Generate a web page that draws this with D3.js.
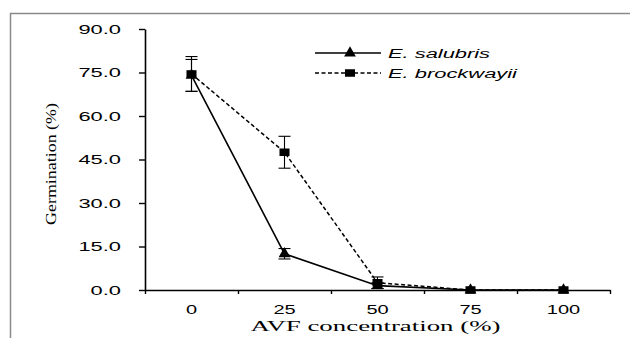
<!DOCTYPE html>
<html><head><meta charset="utf-8">
<script src="https://cdn.jsdelivr.net/npm/d3@7"></script>
<style>body{margin:0;background:#fff}svg{display:block}
.serif{font-family:"Liberation Serif","Times New Roman","DejaVu Serif",serif;font-weight:normal}
.sans{font-family:"Liberation Sans",Arial,Helvetica,sans-serif}
</style>
</head><body>
<svg id="c" width="630" height="338"></svg>
<script>
const categories = ["0","25","50","75","100"];
const salubris = [74.0, 12.5, 1.5, 0.0, 0.0];
const salubrisErr = [5.5, 1.8, 1.0, 0.0, 0.0];
const brockwayii = [74.5, 47.5, 2.5, 0.0, 0.0];
const brockwayiiErr = [6.0, 5.5, 2.0, 0.0, 0.0];
const yTicks = [0, 15, 30, 45, 60, 75, 90];
const seriesNames = ["E. salubris", "E. brockwayii"];

(function () {
const svg = d3.select("#c");
const mL = 145, mR = 610, mT = 29, mB = 290;
const x = d3.scaleBand().domain(categories).range([mL, mR]);
const xb = d3.scaleLinear().domain([0, categories.length]).range([mL, mR]);
const y = d3.scaleLinear().domain([0, 90]).range([mB, mT]);

function fit(sel, w) {
  sel.attr("textLength", w).attr("lengthAdjust", "spacingAndGlyphs");
}
function stretch(sel, k) {
  sel.each(function () {
    const w = this.getComputedTextLength();
    d3.select(this).attr("textLength", w * k).attr("lengthAdjust", "spacingAndGlyphs");
  });
}

// frame
svg.append("line").attr("x1", 10).attr("x2", 630).attr("y1", 13.5).attr("y2", 13.5).attr("stroke", "#8a8a8a").attr("stroke-width", 1.5);
svg.append("line").attr("x1", 10.5).attr("x2", 10.5).attr("y1", 13).attr("y2", 338).attr("stroke", "#8a8a8a").attr("stroke-width", 1.5);

// y axis
const ya = svg.append("g").attr("transform", `translate(${mL},0)`)
  .call(d3.axisLeft(y).tickValues(yTicks).tickFormat(d3.format(".1f")).tickSize(6).tickPadding(18).tickSizeOuter(0));
ya.attr("font-family", null);
ya.select(".domain").attr("stroke", "#000").attr("stroke-width", 1.6);
ya.selectAll(".tick line").attr("stroke", "#000").attr("stroke-width", 1.4);
ya.selectAll("text").attr("class", "sans").attr("font-size", 12.5).attr("fill", "#000").call(stretch, 1.75);

// x axis boundary ticks
const xt = svg.append("g").attr("transform", `translate(0,${mB})`)
  .call(d3.axisBottom(xb).tickValues(d3.range(categories.length + 1)).tickFormat("").tickSize(4).tickSizeOuter(0));
xt.select(".domain").attr("stroke", "#000").attr("stroke-width", 1.6);
xt.selectAll(".tick line").attr("stroke", "#000").attr("stroke-width", 1.4);
// x labels
const xa = svg.append("g").attr("transform", `translate(0,${mB})`)
  .call(d3.axisBottom(x).tickSize(0).tickPadding(15));
xa.attr("font-family", null);
xa.select(".domain").remove();
xa.selectAll("text").attr("class", "sans").attr("font-size", 12.5).attr("fill", "#000").call(stretch, 1.6);

// axis titles
svg.append("text").attr("class", "serif").attr("x", (mL + mR) / 2 - 2).attr("y", 331).attr("text-anchor", "middle")
  .attr("font-size", 14.5).attr("fill", "#000")
  .text("AVF concentration (%)").call(fit, 250);
svg.append("text").attr("class", "serif").attr("transform", "translate(56,164) rotate(-90)").attr("text-anchor", "middle")
  .attr("font-size", 14.5).attr("fill", "#000")
  .text("Germination (%)").call(fit, 122);

const cx = (i) => x(categories[i]) + x.bandwidth() / 2;
const line = d3.line().x((d, i) => cx(i)).y(d => y(d));

function errorBars(vals, errs) {
  const g = svg.append("g").attr("stroke", "#000").attr("stroke-width", 1.1);
  vals.forEach((v, i) => {
    if (errs[i] <= 0) return;
    g.append("line").attr("x1", cx(i)).attr("x2", cx(i)).attr("y1", y(v + errs[i])).attr("y2", y(v - errs[i]));
    [v + errs[i], v - errs[i]].forEach(e => g.append("line").attr("x1", cx(i) - 6).attr("x2", cx(i) + 6).attr("y1", y(e)).attr("y2", y(e)));
  });
}
errorBars(salubris, salubrisErr);
errorBars(brockwayii, brockwayiiErr);

svg.append("path").datum(brockwayii).attr("d", line).attr("fill", "none").attr("stroke", "#000").attr("stroke-width", 1.5).attr("stroke-dasharray", "4,2.5");
svg.append("path").datum(salubris).attr("d", line).attr("fill", "none").attr("stroke", "#000").attr("stroke-width", 1.6);

const tri = d3.symbol().type(d3.symbolTriangle).size(60);
const sq = d3.symbol().type(d3.symbolSquare).size(70);
svg.append("g").selectAll("path").data(salubris).join("path").attr("d", tri).attr("transform", (d, i) => `translate(${cx(i)},${y(d)})`).attr("fill", "#000");
svg.append("g").selectAll("path").data(brockwayii).join("path").attr("d", sq).attr("transform", (d, i) => `translate(${cx(i)},${y(d)}) scale(1.2,0.9)`).attr("fill", "#000");

// legend
const lg = svg.append("g");
const ly = [53, 73];
lg.append("line").attr("x1", 315).attr("x2", 381).attr("y1", ly[0]).attr("y2", ly[0]).attr("stroke", "#000").attr("stroke-width", 1.6);
lg.append("line").attr("x1", 315).attr("x2", 381).attr("y1", ly[1]).attr("y2", ly[1]).attr("stroke", "#000").attr("stroke-width", 1.5).attr("stroke-dasharray", "4,2.5");
lg.append("path").attr("d", tri).attr("transform", `translate(350,${ly[0]})`);
lg.append("path").attr("d", sq).attr("transform", `translate(350,${ly[1]}) scale(1.2,0.9)`);
const lw = [102, 129];
seriesNames.forEach((n, i) => {
  lg.append("text").attr("class", "sans").attr("x", 388).attr("y", ly[i] + 4.5)
    .attr("font-style", "italic").attr("font-size", 12.5).attr("fill", "#000").text(n).call(fit, lw[i]);
});
})();
</script>
</body></html>
